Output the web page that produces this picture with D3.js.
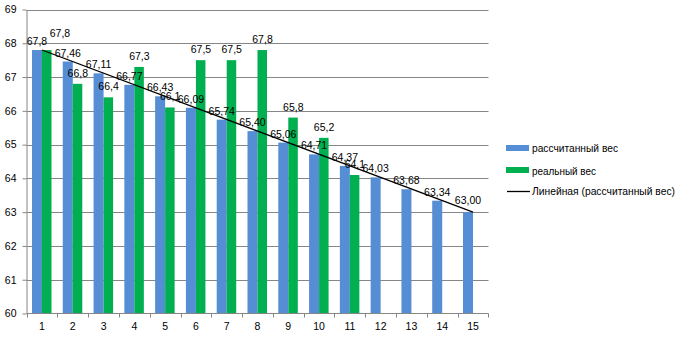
<!DOCTYPE html>
<html>
<head>
<meta charset="utf-8">
<script src="https://cdn.jsdelivr.net/npm/d3@7"></script>
<style>
  html, body { margin: 0; padding: 0; background: #fff; }
  svg { display: block; font-family: "Liberation Sans", Arial, sans-serif; }
</style>
</head>
<body>
<svg id="chart" width="679" height="342"></svg>
<script>
// ---- data ----
const categories = ["1","2","3","4","5","6","7","8","9","10","11","12","13","14","15"];
const calculated = [67.8, 67.46, 67.11, 66.77, 66.43, 66.09, 65.74, 65.40, 65.06, 64.71, 64.37, 64.03, 63.68, 63.34, 63.00];
const calculatedLabels = ["67,8","67,46","67,11","66,77","66,43","66,09","65,74","65,40","65,06","64,71","64,37","64,03","63,68","63,34","63,00"];
const real = [67.8, 66.8, 66.4, 67.3, 66.1, 67.5, 67.5, 67.8, 65.8, 65.2, 64.1];
const realLabels = ["67,8","66,8","66,4","67,3","66,1","67,5","67,5","67,8","65,8","65,2","64,1"];
const yTicks = [60, 61, 62, 63, 64, 65, 66, 67, 68, 69];
const seriesNames = ["рассчитанный вес", "реальный вес", "Линейная (рассчитанный вес)"];

// ---- styles ----
const BLUE = "#558ED5", GREEN = "#00B050", GRID = "#868686";
const FS = 10.5;

const svg = d3.select("#chart");
const x = d3.scaleBand().domain(categories).range([26.6, 488.4]);
const bw = x.bandwidth();
const xs = d3.scaleBand().domain(["calc", "real"]).range([bw * 0.175, bw * 0.825]);
const y = d3.scaleLinear().domain([60, 69]).range([313.5, 9.5]);

// gridlines
svg.append("g").selectAll("line").data(yTicks.filter(d => d > 60)).join("line")
  .attr("x1", 26.5).attr("x2", 488.5)
  .attr("y1", d => Math.round(y(d)) + 0.5).attr("y2", d => Math.round(y(d)) + 0.5)
  .attr("stroke", GRID).attr("stroke-width", 1);

// bars
svg.append("g").selectAll("rect").data(calculated).join("rect")
  .attr("x", (d, i) => x(categories[i]) + xs("calc"))
  .attr("width", xs.bandwidth())
  .attr("y", d => y(d)).attr("height", d => y(60) - y(d))
  .attr("fill", BLUE);
svg.append("g").selectAll("rect").data(real).join("rect")
  .attr("x", (d, i) => x(categories[i]) + xs("real"))
  .attr("width", xs.bandwidth() - 0.5)
  .attr("y", d => y(d)).attr("height", d => y(60) - y(d))
  .attr("fill", GREEN);

// y axis
const yAxis = svg.append("g").attr("transform", "translate(26.5,0)")
  .call(d3.axisLeft(y).tickValues(yTicks).tickSize(4).tickSizeOuter(0).tickFormat(d3.format("d")));
yAxis.select(".domain").attr("stroke", GRID);
yAxis.selectAll(".tick line").attr("stroke", GRID);
yAxis.selectAll(".tick text").attr("font-size", FS).attr("fill", "#000").attr("x", -10)
  .attr("font-family", "Liberation Sans, Arial, sans-serif");

// x axis
const xAxis = svg.append("g").attr("transform", "translate(0,313.5)")
  .call(d3.axisBottom(x).tickSize(0).tickSizeOuter(0).tickPadding(9));
xAxis.select(".domain").attr("stroke", GRID).attr("d", "M26.5,0H488.5");
xAxis.selectAll(".tick text").attr("font-size", FS).attr("fill", "#000")
  .attr("font-family", "Liberation Sans, Arial, sans-serif");
const bounds = categories.map(c => x(c)).concat([x(categories[categories.length - 1]) + bw]);
xAxis.append("g").selectAll("line").data(bounds).join("line")
  .attr("x1", d => Math.round(d) + 0.5).attr("x2", d => Math.round(d) + 0.5)
  .attr("y1", 0).attr("y2", 4).attr("stroke", GRID);

// linear trendline (least squares on calculated series)
const n = calculated.length;
const xi = d3.range(1, n + 1);
const mx = d3.mean(xi), my = d3.mean(calculated);
const slope = d3.sum(xi.map((v, i) => (v - mx) * (calculated[i] - my))) / d3.sum(xi.map(v => (v - mx) ** 2));
const icpt = my - slope * mx;
const cx = i => x(categories[i]) + bw / 2;
svg.append("line")
  .attr("x1", cx(0)).attr("y1", y(icpt + slope * 1))
  .attr("x2", cx(n - 1)).attr("y2", y(icpt + slope * n))
  .attr("stroke", "#000").attr("stroke-width", 1.3);

// data labels
svg.append("g").selectAll("text").data(calculated).join("text")
  .attr("x", (d, i) => x(categories[i]) + xs("calc") + xs.bandwidth() / 2)
  .attr("y", (d, i) => y(d) - (i === n - 1 ? 8 : 5))
  .attr("text-anchor", "middle").attr("font-size", FS).attr("fill", "#000")
  .text((d, i) => calculatedLabels[i]);
svg.append("g").selectAll("text").data(real).join("text")
  .attr("x", (d, i) => x(categories[i]) + xs("real") + xs.bandwidth() / 2 + (i === 0 ? 13 : 0))
  .attr("y", (d, i) => y(d) - (i === 0 ? 13 : 7))
  .attr("text-anchor", "middle").attr("font-size", FS).attr("fill", "#000")
  .text((d, i) => realLabels[i]);

// legend
const lg = svg.append("g").attr("transform", "translate(506,0)");
lg.append("rect").attr("x", 0).attr("y", 145).attr("width", 23).attr("height", 6).attr("fill", BLUE);
lg.append("rect").attr("x", 0).attr("y", 167).attr("width", 23).attr("height", 6).attr("fill", GREEN);
lg.append("line").attr("x1", 1).attr("x2", 24).attr("y1", 191.5).attr("y2", 191.5).attr("stroke", "#000").attr("stroke-width", 1.3);
lg.selectAll("text").data(seriesNames).join("text")
  .attr("x", 26).attr("y", (d, i) => [152, 175, 195][i])
  .attr("font-size", 10).attr("fill", "#000")
  .attr("textLength", (d, i) => [86, 64, 143][i]).attr("lengthAdjust", "spacingAndGlyphs")
  .text(d => d);
</script>
</body>
</html>
